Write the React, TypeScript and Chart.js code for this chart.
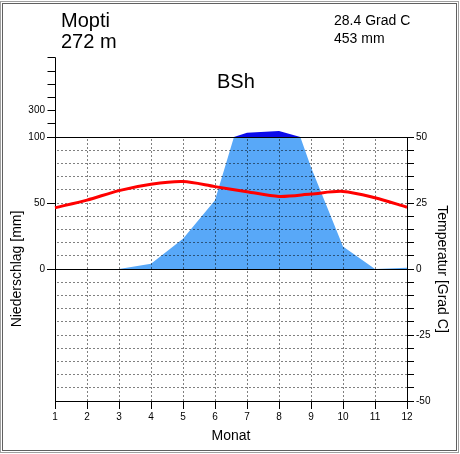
import React, { useEffect, useRef } from 'react';
import { Chart, registerables } from 'chart.js';

Chart.register(...registerables);

// Station data: Mopti (Mali)
const months = ['1', '2', '3', '4', '5', '6', '7', '8', '9', '10', '11', '12'];
const precipitation = [0, 0, 0, 4, 23, 52, 133, 146, 77, 17, 0, 1]; // mm per month
const temperature = [23.2, 26.1, 29.7, 32.1, 33.1, 31.2, 29.3, 27.5, 28.4, 29.4, 27.0, 23.4]; // deg C

const precipTicks = [0, 50, 100];
const precipUpperTicks = [200, 300, 400, 500, 600, 700];
const precipUpperLabels = [300];
const tempTicks = [-50, -45, -40, -35, -30, -25, -20, -15, -10, -5, 0, 5, 10, 15, 20, 25, 30, 35, 40, 45, 50];
const tempLabels = [-50, -25, 0, 25, 50];

const stationName = 'Mopti';
const stationHeight = '272 m';
const meanTemperature = '28.4 Grad C';
const annualPrecipitation = '453 mm';
const climateClass = 'BSh';

const FONT = "'Liberation Sans', Arial, Helvetica, sans-serif";
const LIGHT_BLUE = '#58a8f8';
const DARK_BLUE = '#0a0aea';

// Above 100 mm the precipitation axis is compressed to 1/10.
const toPlot = (mm: number) => (mm <= 100 ? mm : 100 + (mm - 100) / 10);

const align = (p: number) => Math.round(p - 0.5) + 0.5;

const climatePlugin = {
  id: 'climateDiagram',
  afterDatasetDraw(chart: any, args: any) {
    if (args.index !== 1) return;
    const { ctx, chartArea: a, scales } = chart;
    const xs = scales.x;
    const yP = scales.yP;
    const yT = scales.yT;
    const top = align(a.top);
    const bottom = align(a.bottom);
    const left = align(a.left);
    const right = align(a.right);

    ctx.save();

    // humid season above 100 mm (compressed scale)
    const runs: { x: number; y: number }[][] = [];
    let cur: { x: number; y: number }[] | null = null;
    for (let i = 0; i < precipitation.length; i++) {
      const v = precipitation[i];
      if (v > 100) {
        if (!cur) {
          cur = [];
          if (i > 0) {
            const p0 = precipitation[i - 1];
            const f = (100 - p0) / (v - p0);
            cur.push({ x: xs.getPixelForValue(i - 1 + f), y: yP.getPixelForValue(100) });
          } else {
            cur.push({ x: xs.getPixelForValue(0), y: yP.getPixelForValue(100) });
          }
        }
        cur.push({ x: xs.getPixelForValue(i), y: yP.getPixelForValue(toPlot(v)) });
      } else if (cur) {
        const p0 = precipitation[i - 1];
        const f = (p0 - 100) / (p0 - v);
        cur.push({ x: xs.getPixelForValue(i - 1 + f), y: yP.getPixelForValue(100) });
        runs.push(cur);
        cur = null;
      }
    }
    if (cur) {
      cur.push({ x: xs.getPixelForValue(precipitation.length - 1), y: yP.getPixelForValue(100) });
      runs.push(cur);
    }
    ctx.fillStyle = DARK_BLUE;
    for (const run of runs) {
      ctx.beginPath();
      ctx.moveTo(run[0].x, run[0].y);
      for (const p of run.slice(1)) ctx.lineTo(p.x, p.y);
      ctx.closePath();
      ctx.fill();
    }

    // dotted grid
    ctx.strokeStyle = '#000';
    ctx.lineWidth = 1;
    ctx.setLineDash([1, 3]);
    for (let i = 1; i < months.length - 1; i++) {
      const px = align(xs.getPixelForValue(i));
      ctx.beginPath();
      ctx.moveTo(px, top + 2);
      ctx.lineTo(px, bottom);
      ctx.stroke();
    }
    for (const t of tempTicks) {
      if (t === 0 || t === 50 || t === -50) continue;
      const py = align(yT.getPixelForValue(t));
      ctx.beginPath();
      ctx.moveTo(left + 2, py);
      ctx.lineTo(right, py);
      ctx.stroke();
    }
    ctx.setLineDash([]);

    // zero line and frame of the plot
    const zero = align(yP.getPixelForValue(0));
    ctx.beginPath();
    ctx.moveTo(left, zero);
    ctx.lineTo(right, zero);
    ctx.moveTo(left, top);
    ctx.lineTo(right, top);
    ctx.moveTo(left, top);
    ctx.lineTo(left, bottom);
    ctx.moveTo(right, top);
    ctx.lineTo(right, bottom);
    ctx.moveTo(left, bottom);
    ctx.lineTo(right, bottom);
    ctx.stroke();

    ctx.restore();
  },
  afterDraw(chart: any) {
    const { ctx, chartArea: a, scales } = chart;
    const yP = scales.yP;
    const x0 = align(a.left);
    const yTop = align(yP.getPixelForValue(toPlot(precipUpperTicks[precipUpperTicks.length - 1])));
    ctx.save();
    ctx.strokeStyle = '#000';
    ctx.lineWidth = 1;
    ctx.beginPath();
    ctx.moveTo(x0, yTop);
    ctx.lineTo(x0, align(a.top));
    for (const m of precipUpperTicks) {
      const py = align(yP.getPixelForValue(toPlot(m)));
      ctx.moveTo(x0 - 8, py);
      ctx.lineTo(x0, py);
    }
    ctx.stroke();
    ctx.fillStyle = '#000';
    ctx.font = `10px ${FONT}`;
    ctx.textAlign = 'right';
    ctx.textBaseline = 'middle';
    for (const m of precipUpperLabels) {
      ctx.fillText(String(m), a.left - 10, yP.getPixelForValue(toPlot(m)));
    }
    ctx.restore();
  },
};

const tickFont = { family: FONT, size: 10 };
const titleFont = { family: FONT, size: 14 };

export default function App() {
  const canvasRef = useRef<HTMLCanvasElement | null>(null);

  useEffect(() => {
    const canvas = canvasRef.current;
    if (!canvas) return;
    const chart = new Chart(canvas, {
      type: 'line',
      data: {
        labels: months,
        datasets: [
          {
            label: 'Temperatur',
            data: temperature,
            yAxisID: 'yT',
            borderColor: '#ff0000',
            borderWidth: 3,
            pointRadius: 0,
            tension: 0.3,
            fill: false,
            order: 0,
          },
          {
            label: 'Niederschlag',
            data: precipitation,
            yAxisID: 'yP',
            borderWidth: 0,
            borderColor: 'rgba(0,0,0,0)',
            backgroundColor: LIGHT_BLUE,
            pointRadius: 0,
            tension: 0,
            fill: 'origin',
            order: 1,
          },
        ],
      },
      options: {
        responsive: false,
        animation: false,
        devicePixelRatio: 1,
        layout: { padding: { top: 137, left: 0, right: 0, bottom: 0 } },
        plugins: {
          legend: { display: false },
          tooltip: { enabled: false },
          title: { display: false },
        },
        scales: {
          x: {
            type: 'category',
            offset: false,
            grid: { drawOnChartArea: false, drawTicks: true, tickLength: 8, color: '#000', tickColor: '#000' },
            border: { display: true, color: '#000', width: 1 },
            ticks: { color: '#000', font: tickFont, padding: 2, autoSkip: false, maxRotation: 0 },
            title: { display: true, text: 'Monat', color: '#000', font: titleFont, padding: { top: 0, bottom: 9 } },
            afterFit: (s: any) => {
              s.height = 53;
            },
          },
          yP: {
            type: 'linear',
            position: 'left',
            min: -100,
            max: 100,
            afterBuildTicks: (s: any) => {
              s.ticks = precipTicks.map((v) => ({ value: v }));
            },
            grid: { drawOnChartArea: false, drawTicks: true, tickLength: 8, color: '#000', tickColor: '#000' },
            border: { display: true, color: '#000', width: 1 },
            ticks: { color: '#000', font: tickFont, padding: 2, autoSkip: false, callback: (v: any) => String(v) },
            title: { display: true, text: 'Niederschlag [mm]', color: '#000', font: titleFont, padding: { top: 9, bottom: 0 } },
            afterFit: (s: any) => {
              s.width = 55;
            },
          },
          yT: {
            type: 'linear',
            position: 'right',
            min: -50,
            max: 50,
            afterBuildTicks: (s: any) => {
              s.ticks = tempTicks.map((v) => ({ value: v }));
            },
            grid: { drawOnChartArea: false, drawTicks: true, tickLength: 7, color: '#000', tickColor: '#000' },
            border: { display: true, color: '#000', width: 1 },
            ticks: {
              color: '#000',
              font: tickFont,
              padding: 2,
              autoSkip: false,
              callback: (v: any) => (tempLabels.includes(Number(v)) ? String(v) : ''),
            },
            title: { display: true, text: 'Temperatur [Grad C]', color: '#000', font: titleFont, padding: { top: 10, bottom: 0 } },
            afterFit: (s: any) => {
              s.width = 53;
            },
          },
        },
      },
      plugins: [climatePlugin],
    } as any);
    return () => chart.destroy();
  }, []);

  const text = (size: number): React.CSSProperties => ({
    position: 'absolute',
    fontFamily: FONT,
    fontSize: size,
    lineHeight: `${size}px`,
    color: '#000',
    whiteSpace: 'nowrap',
  });

  return (
    <div style={{ position: 'fixed', left: 0, top: 0, width: 460, height: 454, background: '#fff', overflow: 'hidden' }}>
      <div style={{ position: 'absolute', left: 0, top: 1, width: 459, height: 452, boxSizing: 'border-box', border: '1px solid #a0a0a0' }} />
      <div style={{ position: 'absolute', left: 2, top: 3, width: 455, height: 448, boxSizing: 'border-box', border: '1px solid #606060' }} />
      <canvas ref={canvasRef} width={460} height={454} style={{ position: 'absolute', left: 0, top: 0, width: 460, height: 454 }} />
      <div style={{ ...text(20), left: 61, top: 10 }}>{stationName}</div>
      <div style={{ ...text(20), left: 61, top: 31 }}>{stationHeight}</div>
      <div style={{ ...text(14), left: 334, top: 13 }}>{meanTemperature}</div>
      <div style={{ ...text(14), left: 334, top: 31 }}>{annualPrecipitation}</div>
      <div style={{ ...text(20), left: 217, top: 71 }}>{climateClass}</div>
    </div>
  );
}
